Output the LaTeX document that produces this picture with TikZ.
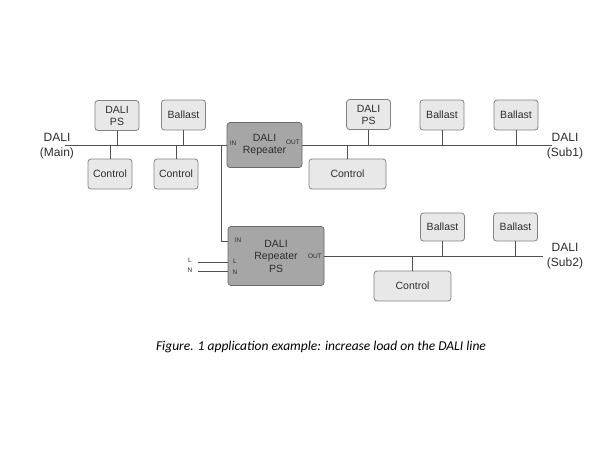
\documentclass[tikz,border=0pt]{standalone}
\usepackage{fontspec}
\setmainfont{Liberation Sans}
\newfontfamily\captionfont{Carlito}
\usetikzlibrary{positioning,calc}
\definecolor{boxFill}{RGB}{232,232,232}
\definecolor{boxLine}{RGB}{130,130,130}
\definecolor{repFill}{RGB}{166,166,166}
\definecolor{repLine}{RGB}{105,105,105}
\definecolor{wireGray}{RGB}{80,80,80}
\definecolor{inkGray}{RGB}{45,45,45}
\tikzset{
  device node/.style={draw=boxLine,fill=boxFill,rounded corners=3pt,line width=0.8pt,align=center,text=inkGray,font=\fontsize{10.5}{12}\selectfont,inner sep=0pt,minimum width=44pt,minimum height=30pt},
  repeater node/.style={draw=repLine,fill=repFill,rounded corners=3pt,line width=0.8pt,align=center,text=inkGray,font=\fontsize{10.5}{12.5}\selectfont,inner sep=0pt},
  bus label/.style={align=center,text=inkGray,font=\fontsize{12}{15}\selectfont,inner sep=0pt},
  pin label/.style={text=inkGray,font=\fontsize{6.5}{6.5}\selectfont,inner sep=0pt},
  bus line/.style={draw=wireGray,line width=0.8pt}
}
\begin{document}
\begin{tikzpicture}[x=1pt,y=-1pt]
  \useasboundingbox (0,0) rectangle (610,450);
  % main line
  \node[device node] (ps1) at (117,115.5) {DALI\\PS};
  \node[device node] (ballast1) at (183.5,115) {Ballast};
  \node[device node] (control1) at (110,174) {Control};
  \node[device node] (control2) at (176,174) {Control};
  \node[repeater node,minimum width=75pt,minimum height=45pt] (rep1) at (264.5,145) {DALI\\Repeater};
  % sub 1
  \node[device node] (ps2) at (368.5,114.5) {DALI\\PS};
  \node[device node,minimum width=77pt] (control3) at (347.5,174) {Control};
  \node[device node] (ballast2) at (442,115) {Ballast};
  \node[device node] (ballast3) at (516,115) {Ballast};
  % sub 2
  \node[repeater node,minimum width=96pt,minimum height=59pt] (rep2) at (276,256) {DALI\\Repeater\\PS};
  \node[device node,minimum height=28pt] (ballast4) at (442.5,227) {Ballast};
  \node[device node,minimum height=28pt] (ballast5) at (515.5,227) {Ballast};
  \node[device node,minimum width=77pt] (control4) at (412.5,286) {Control};

  \node[bus label] (mainlbl) at (57,146.5) {DALI\\(Main)};
  \node[bus label] (sub1lbl) at (565,146) {DALI\\(Sub1)};
  \node[bus label] (sub2lbl) at (565,256) {DALI\\(Sub2)};

  \node[pin label] (rep1in) at (233,143) {IN};
  \node[pin label] (rep1out) at (293,142) {OUT};
  \node[pin label] (rep2in) at (238,240) {IN};
  \node[pin label] (rep2l) at (235,261) {L};
  \node[pin label] (rep2n) at (235,272) {N};
  \node[pin label] (rep2out) at (315,256) {OUT};
  \node[pin label] (lineL) at (190,260) {L};
  \node[pin label] (lineN) at (190,270) {N};

  \coordinate (mainEnd) at (65,145);
  \coordinate (sub1End) at (552,145);
  \coordinate (sub2End) at (543,256);
  \coordinate (tap) at (221,145);
  \coordinate (lIn) at (198,262);
  \coordinate (nIn) at (198,271);

  % buses
  \draw[bus line] (mainEnd) -- (rep1.west);
  \draw[bus line] (rep1.east) -- (sub1End);
  \draw[bus line] (tap) |- (rep2.west |- 0,241);
  \draw[bus line] (rep2.east) -- (sub2End);
  \draw[bus line] (lIn) -- (lIn -| rep2.west);
  \draw[bus line] (nIn) -- (nIn -| rep2.west);
  % stems
  \draw[bus line] (ps1) -- (ps1 |- mainEnd);
  \draw[bus line] (ballast1) -- (ballast1 |- mainEnd);
  \draw[bus line] (control1) -- (control1 |- mainEnd);
  \draw[bus line] (control2) -- (control2 |- mainEnd);
  \draw[bus line] (ps2) -- (ps2 |- sub1End);
  \draw[bus line] (control3) -- (control3 |- sub1End);
  \draw[bus line] (ballast2) -- (ballast2 |- sub1End);
  \draw[bus line] (ballast3) -- (ballast3 |- sub1End);
  \draw[bus line] (ballast4) -- (ballast4 |- sub2End);
  \draw[bus line] (ballast5) -- (ballast5 |- sub2End);
  \draw[bus line] (control4) -- (control4 |- sub2End);

  \node[font=\captionfont\itshape\fontsize{13.5}{16}\selectfont,text=black,inner sep=0pt] (caption) at (321,347) {Figure. 1 application example: increase load on the DALI line};
\end{tikzpicture}
\end{document}
